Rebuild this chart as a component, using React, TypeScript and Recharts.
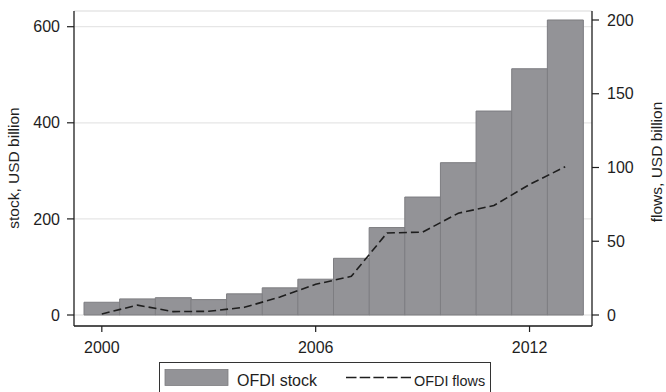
import { ComposedChart, Bar, Line, XAxis, YAxis, CartesianGrid } from "recharts";

const years = ["2000", "2001", "2002", "2003", "2004", "2005", "2006", "2007", "2008", "2009", "2010", "2011", "2012", "2013"];
const stockValues = [26.5, 33.5, 36, 32, 44, 56.5, 74.5, 118, 182, 245.5, 317, 424.5, 512.5, 614];
const flowValues = [0.7, 6.7, 2.3, 2.5, 5.2, 12.2, 20.8, 26.2, 55.6, 56.2, 69, 74.2, 88.5, 100.5];
const stockTicks = [0, 200, 400, 600];
const flowTicks = [0, 50, 100, 150, 200];
const labeledYears = ["2000", "2006", "2012"];

const data = years.map((year, i) => ({
  year,
  stock: stockValues[i],
  flows: flowValues[i],
}));

const INK = "#1e1e1e";
const BAR_FILL = "#939397";
const BAR_EDGE = "#7d7d81";
const FONT = '"Liberation Sans", Arial, Helvetica, sans-serif';

// only a few years get a tick + label, like the original
function YearTick({ x, y, payload }: any) {
  if (!labeledYears.includes(String(payload.value))) return <g />;
  return (
    <g>
      <line x1={x} x2={x} y1={y} y2={y + 6} stroke={INK} strokeWidth={1.2} />
      <text x={x} y={y + 27} textAnchor="middle" fill={INK} fontSize={16} fontFamily={FONT}>
        {payload.value}
      </text>
    </g>
  );
}

const tickStyle = { fill: INK, fontSize: 16, fontFamily: FONT };

export default function App() {
  return (
    <div style={{ position: "absolute", left: 0, top: 0, width: 666, height: 392, overflow: "hidden", background: "#fff" }}>
      <ComposedChart
        width={666}
        height={392}
        data={data}
        margin={{ top: 11, right: 0, bottom: 36, left: 0 }}
        barCategoryGap={0}
        barGap={0}
      >
        <CartesianGrid yAxisId="left" vertical={false} stroke="#e6e6e6" strokeWidth={1.3} />
        <XAxis
          dataKey="year"
          height={30}
          padding={{ left: 10, right: 9 }}
          interval={0}
          tickSize={0}
          tickMargin={0}
          tickLine={false}
          tick={<YearTick />}
          axisLine={{ stroke: INK, strokeWidth: 1.3 }}
        />
        <YAxis
          yAxisId="left"
          width={74}
          domain={[-22.9, 632.7]}
          ticks={stockTicks}
          allowDataOverflow
          tickSize={7}
          tickMargin={7}
          tick={tickStyle}
          tickLine={{ stroke: INK, strokeWidth: 1.2 }}
          axisLine={{ stroke: INK, strokeWidth: 1.3 }}
          label={{
            content: () => (
              <text transform="translate(19,168) rotate(-90)" textAnchor="middle" fill={INK} fontSize={15.5} fontFamily={FONT}>
                stock, USD billion
              </text>
            ),
          }}
        />
        <YAxis
          yAxisId="right"
          orientation="right"
          width={74}
          domain={[-7.46, 206.1]}
          ticks={flowTicks}
          allowDataOverflow
          tickSize={7}
          tickMargin={8}
          tick={tickStyle}
          tickLine={{ stroke: INK, strokeWidth: 1.2 }}
          axisLine={{ stroke: INK, strokeWidth: 1.3 }}
          label={{
            content: () => (
              <text transform="translate(662,162) rotate(-90)" textAnchor="middle" fill={INK} fontSize={15.5} fontFamily={FONT}>
                flows, USD billion
              </text>
            ),
          }}
        />
        <Bar
          yAxisId="left"
          dataKey="stock"
          fill={BAR_FILL}
          stroke={BAR_EDGE}
          strokeWidth={1}
          isAnimationActive={false}
        />
        <Line
          yAxisId="right"
          dataKey="flows"
          type="linear"
          stroke={INK}
          strokeWidth={1.6}
          strokeDasharray="8 4"
          dot={false}
          activeDot={false}
          isAnimationActive={false}
        />
      </ComposedChart>

      {/* legend box, cut off at the bottom edge as in the source */}
      <svg width={666} height={392} style={{ position: "absolute", left: 0, top: 0, pointerEvents: "none" }}>
        <rect x={159.5} y={362.5} width={331} height={40} fill="#fff" stroke="#333" strokeWidth={1} />
        <rect x={165} y={369.5} width={63} height={16} fill={BAR_FILL} stroke={BAR_EDGE} strokeWidth={0.8} />
        <text x={237} y={385.5} fill={INK} fontSize={16} fontFamily={FONT}>
          OFDI stock
        </text>
        <line x1={346} x2={411} y1={377.5} y2={377.5} stroke={INK} strokeWidth={1.4} strokeDasharray="10.5 3.2" />
        <text x={414} y={385.5} fill={INK} fontSize={14.4} fontFamily={FONT}>
          OFDI flows
        </text>
      </svg>
    </div>
  );
}
